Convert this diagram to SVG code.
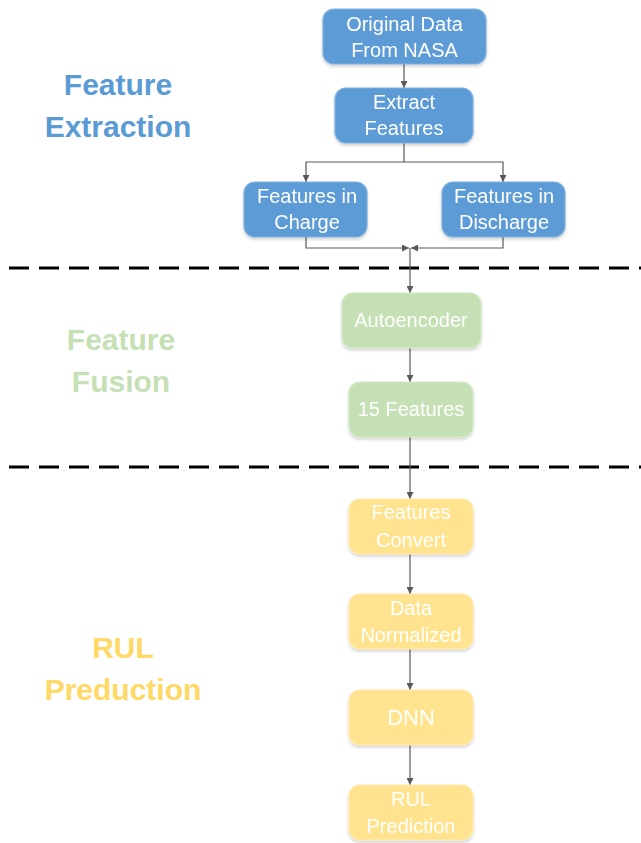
<svg xmlns="http://www.w3.org/2000/svg" width="641" height="843" viewBox="0 0 641 843">
<style>
.n rect{rx:11;ry:11;stroke-width:1.2}
.b rect{fill:#5B9BD5;stroke:#7FB0DF}
.g rect{fill:#C5E0B4;stroke:#D3E8C6}
.y rect{fill:#FFE38F;stroke:#FFEAAE}
.n text{font-family:"Liberation Sans",Arial,sans-serif;font-size:20px;fill:#FFFFFF;text-anchor:middle}
.lab{font-family:"Liberation Sans",Arial,sans-serif;font-size:30px;font-weight:bold;text-anchor:middle}
.c path{fill:none;stroke:#595959;stroke-width:1.2}
.d{stroke:#000;stroke-width:3;stroke-dasharray:20 10}
</style>
<defs>
<marker id="ah" viewBox="0 0 10 10" refX="10" refY="5" markerWidth="7" markerHeight="7" markerUnits="userSpaceOnUse" orient="auto"><path d="M0,0 L10,5 L0,10 z" fill="#595959"/></marker>
<filter id="sh" x="-10%" y="-10%" width="130%" height="140%"><feDropShadow dx="0" dy="2" stdDeviation="1.5" flood-color="#000" flood-opacity="0.18"/></filter>
</defs>

<line class="d" x1="9" y1="268" x2="641" y2="268"/>
<line class="d" x1="9" y1="467" x2="641" y2="467"/>

<g id="labels">
<text class="lab" x="118" y="95" fill="#5B9BD5">Feature</text>
<text class="lab" x="118" y="137" fill="#5B9BD5">Extraction</text>
<text class="lab" x="121" y="350" fill="#C5E0B4">Feature</text>
<text class="lab" x="121" y="392" fill="#C5E0B4">Fusion</text>
<text class="lab" x="123" y="658" fill="#FFD966">RUL</text>
<text class="lab" x="123" y="700" fill="#FFD966">Preduction</text>
</g>

<g id="connectors" class="c">
<path d="M404,64 V88" marker-end="url(#ah)"/>
<path d="M404,143 V162 H306 V182" marker-end="url(#ah)"/>
<path d="M404,162 H503 V182" marker-end="url(#ah)"/>
<path d="M306,237 V248 H409" marker-end="url(#ah)"/>
<path d="M503,237 V248 H411" marker-end="url(#ah)"/>
<path d="M410,248 V293" marker-end="url(#ah)"/>
<path d="M410,348 V382" marker-end="url(#ah)"/>
<path d="M410,437 V499" marker-end="url(#ah)"/>
<path d="M410,554 V594" marker-end="url(#ah)"/>
<path d="M410,649 V690" marker-end="url(#ah)"/>
<path d="M410,745 V785" marker-end="url(#ah)"/>
</g>

<g id="original" class="n b" filter="url(#sh)"><rect x="323" y="9" width="163" height="55"/><text x="404.5" y="31">Original Data</text><text x="404.5" y="57">From NASA</text></g>
<g id="extract" class="n b" filter="url(#sh)"><rect x="335" y="88" width="138" height="55"/><text x="404" y="109">Extract</text><text x="404" y="135">Features</text></g>
<g id="charge" class="n b" filter="url(#sh)"><rect x="244" y="182" width="123" height="55"/><text x="307" y="203">Features in</text><text x="307" y="229">Charge</text></g>
<g id="discharge" class="n b" filter="url(#sh)"><rect x="442" y="182" width="123" height="55"/><text x="504" y="203">Features in</text><text x="504" y="229">Discharge</text></g>
<g id="autoencoder" class="n g" filter="url(#sh)"><rect x="342" y="293" width="139" height="55"/><text x="411" y="327">Autoencoder</text></g>
<g id="features15" class="n g" filter="url(#sh)"><rect x="349" y="382" width="124" height="55"/><text x="411" y="416">15 Features</text></g>
<g id="convert" class="n y" filter="url(#sh)"><rect x="349" y="499" width="124" height="55"/><text x="411" y="519">Features</text><text x="411" y="547">Convert</text></g>
<g id="normalized" class="n y" filter="url(#sh)"><rect x="349" y="594" width="124" height="55"/><text x="411" y="615">Data</text><text x="411" y="642">Normalized</text></g>
<g id="dnn" class="n y" filter="url(#sh)"><rect x="349" y="690" width="124" height="55"/><text x="411" y="725" style="font-size:22px">DNN</text></g>
<g id="rul" class="n y" filter="url(#sh)"><rect x="349" y="785" width="124" height="55"/><text x="411" y="806">RUL</text><text x="411" y="833">Prediction</text></g>
</svg>
